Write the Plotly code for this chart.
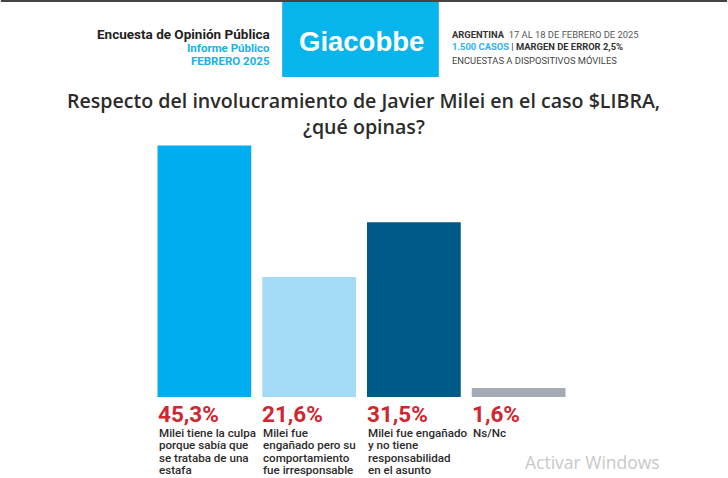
import plotly.graph_objects as go

categories = ["culpa", "enganado_irresp", "enganado_sin_resp", "nsnc"]
values = [45.3, 21.6, 31.5, 1.6]
labels = [
    "Milei tiene la culpa<br>porque sabía que<br>se trataba de una<br>estafa",
    "Milei fue<br>engañado pero su<br>comportamiento<br>fue irresponsable",
    "Milei fue engañado<br>y no tiene<br>responsabilidad<br>en el asunto",
    "Ns/Nc",
]
bar_colors = ["#00aeef", "#a3daf6", "#005a87", "#a4abb4"]

W, H = 728, 478
L, R, T, B = 151.5, 156.5, 140, 81
PW, PH = W - L - R, H - T - B


def px(x):
    return (x - L) / PW


def py(y):
    return (H - B - y) / PH


FONT = "Roboto, Arial, sans-serif"
WIDE = "Open Sans, sans-serif"

fig = go.Figure(go.Bar(
    x=list(range(len(categories))), y=values,
    marker=dict(color=bar_colors, line=dict(width=0)),
    hoverinfo="skip",
))

ann = []
for i, (v, lab) in enumerate(zip(values, labels)):
    pct = f"{v:.1f}".replace(".", ",") + "%"
    ann.append(dict(x=i - 0.447, y=0, xref="x", yref="paper", text=f"<b>{pct}</b>",
                    xanchor="left", yanchor="middle", yshift=-17, xshift=-2, showarrow=False,
                    align="left", font=dict(family=FONT, size=22.5, color="#d0262f")))
    for k, line in enumerate(lab.split("<br>")):
        ann.append(dict(x=i - 0.447, y=0, xref="x", yref="paper", text=line,
                        xanchor="left", yanchor="middle", yshift=-35.5 - 12.6 * k, xshift=-1,
                        showarrow=False, align="left",
                        font=dict(family=FONT, size=11.6, color="#2b2b2b", weight=500)))

# header
ann += [
    dict(x=px(272), y=py(34), xref="paper", yref="paper", text="<b>Encuesta de Opinión Pública</b>",
         xanchor="right", yanchor="middle", showarrow=False,
         font=dict(family=FONT, size=13.5, color="#222")),
    dict(x=px(272), y=py(48), xref="paper", yref="paper", text="<b>Informe Público</b>",
         xanchor="right", yanchor="middle", showarrow=False,
         font=dict(family=FONT, size=11.5, color="#1ab0e8")),
    dict(x=px(272), y=py(61), xref="paper", yref="paper", text="<b>FEBRERO 2025</b>",
         xanchor="right", yanchor="middle", showarrow=False,
         font=dict(family=FONT, size=11.5, color="#1ab0e8")),
    dict(x=px(361), y=py(41), xref="paper", yref="paper", text="<b>Giacobbe</b>",
         xanchor="center", yanchor="middle", showarrow=False,
         font=dict(family="Liberation Sans, Arial, sans-serif", size=27.5, color="white")),
    dict(x=px(450), y=py(35), xref="paper", yref="paper",
         text="<b>ARGENTINA</b>  <span style='color:#555'>17 AL 18 DE FEBRERO DE 2025</span>",
         xanchor="left", yanchor="middle", showarrow=False,
         font=dict(family=FONT, size=9.4, color="#333")),
    dict(x=px(450), y=py(47), xref="paper", yref="paper",
         text="<b><span style='color:#2ab3e8'>1.500 CASOS</span></b> | <b>MARGEN DE ERROR 2,5%</b>",
         xanchor="left", yanchor="middle", showarrow=False,
         font=dict(family=FONT, size=9.4, color="#333")),
    dict(x=px(450), y=py(60), xref="paper", yref="paper",
         text="ENCUESTAS A DISPOSITIVOS MÓVILES",
         xanchor="left", yanchor="middle", showarrow=False,
         font=dict(family=FONT, size=9.4, color="#444")),
    dict(x=px(364), y=py(100), xref="paper", yref="paper",
         text="Respecto del involucramiento de Javier Milei en el caso $LIBRA,",
         xanchor="center", yanchor="middle", showarrow=False,
         font=dict(family=WIDE, size=19.6, color="#2b2b2b", weight=600)),
    dict(x=px(364), y=py(126), xref="paper", yref="paper", text="¿qué opinas?",
         xanchor="center", yanchor="middle", showarrow=False,
         font=dict(family=WIDE, size=19.6, color="#2b2b2b", weight=600)),
    dict(x=px(523), y=py(462), xref="paper", yref="paper", text="Activar Windows",
         xanchor="left", yanchor="middle", showarrow=False,
         font=dict(family=WIDE, size=17.5, color="#c8c8c8")),
]

shapes = [
    dict(type="rect", xref="paper", yref="paper", x0=px(282), x1=px(439), y0=py(2), y1=py(77),
         fillcolor="#08b4ec", line=dict(width=0), layer="below"),
    dict(type="rect", xref="paper", yref="paper", x0=px(0), x1=px(W), y0=py(0), y1=py(2),
         fillcolor="#444444", line=dict(width=0)),
]

fig.update_layout(
    width=W, height=H,
    margin=dict(l=L, r=R, t=T, b=B),
    paper_bgcolor="white", plot_bgcolor="white",
    bargap=0.105,
    showlegend=False,
    xaxis=dict(range=[-0.5, 3.5], visible=False, fixedrange=True),
    yaxis=dict(range=[0, PH / 5.55], visible=False, fixedrange=True),
    annotations=ann, shapes=shapes,
)

fig.write_html(
    "out.html",
    config={"displayModeBar": False},
    post_script="document.body.style.margin='0';document.body.style.overflow='hidden';",
)
